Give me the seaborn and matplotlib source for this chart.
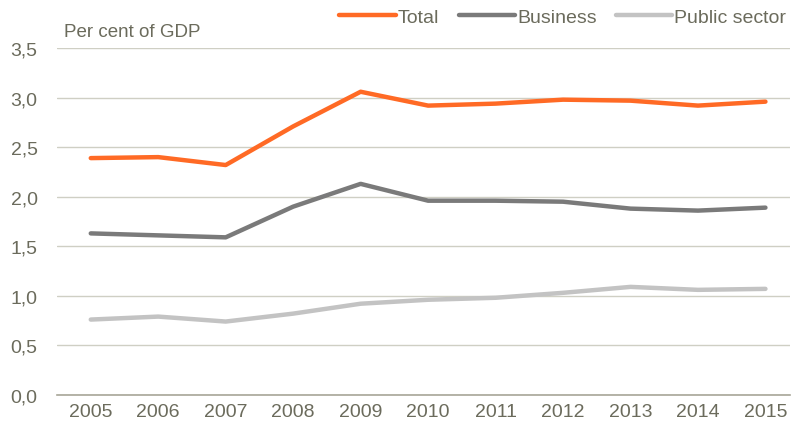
import numpy as np
import pandas as pd
import matplotlib.pyplot as plt
import seaborn as sns
from matplotlib.ticker import FuncFormatter

# Chart data (per cent of GDP)
years = [2005, 2006, 2007, 2008, 2009, 2010, 2011, 2012, 2013, 2014, 2015]
total = [2.39, 2.40, 2.32, 2.71, 3.06, 2.92, 2.94, 2.98, 2.97, 2.92, 2.96]
business = [1.63, 1.61, 1.59, 1.90, 2.13, 1.96, 1.96, 1.95, 1.88, 1.86, 1.89]
public_sector = [0.76, 0.79, 0.74, 0.82, 0.92, 0.96, 0.98, 1.03, 1.09, 1.06, 1.07]
series_names = ["Total", "Business", "Public sector"]
colors = ["#ff6a25", "#7a7a7a", "#c3c3c3"]

text_color = "#6b6b5c"

# Long-form table for seaborn
df = pd.DataFrame({
    "year": [str(y) for y in years] * 3,
    "value": total + business + public_sector,
    "series": [s for s in series_names for _ in years],
})

sns.set_style("white")
plt.rcParams["font.family"] = ["Liberation Sans", "DejaVu Sans"]

fig = plt.figure(figsize=(7.92, 4.35), dpi=100)
ax = fig.add_axes([0.072, 0.09, 0.926, 0.797])

sns.lineplot(data=df, x="year", y="value", hue="series", hue_order=series_names,
             palette=colors, linewidth=3.2, sort=False, ax=ax)

ax.set_ylim(0, 3.5)
ax.set_xlim(-0.5, 10.37)
ax.set_yticks(np.arange(0, 3.51, 0.5))
ax.yaxis.set_major_formatter(FuncFormatter(lambda v, p: f"{v:.1f}".replace(".", ",")))
ax.grid(axis="y", color="#cfcfc4", linewidth=1)
ax.set_axisbelow(True)
for side in ["top", "right", "left"]:
    ax.spines[side].set_visible(False)
ax.spines["bottom"].set_color("#a8a698")
ax.spines["bottom"].set_linewidth(1.2)
ax.tick_params(axis="both", length=0, labelsize=14, colors=text_color)
ax.tick_params(axis="x", pad=6)
ax.tick_params(axis="y", pad=14)
ax.set_xlabel("")
ax.set_ylabel("")

fig.text(0.081, 0.915, "Per cent of GDP", fontsize=13.5, color=text_color)

leg = ax.legend(loc="upper right", bbox_to_anchor=(1.005, 1.137), ncol=3, frameon=False,
                fontsize=14, handlelength=2.9, columnspacing=1.0, handletextpad=0.1,
                borderaxespad=0)
for t in leg.get_texts():
    t.set_color(text_color)
for line in leg.get_lines():
    line.set_linewidth(3.2)

fig.savefig("out.png", dpi=100)
